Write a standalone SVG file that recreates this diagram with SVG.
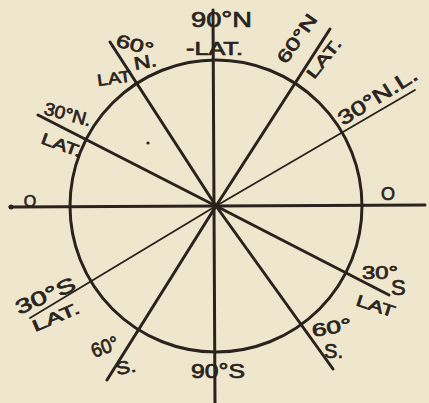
<svg xmlns="http://www.w3.org/2000/svg" width="429" height="403" viewBox="0 0 429 403">
<style>
.bg{fill:#efe7cd}
.ln{stroke:#2a231d;stroke-width:3;fill:none;stroke-linecap:round}
.thin{stroke:#2a231d;stroke-width:1.8;fill:none;stroke-linecap:round}
text{font-family:"Liberation Sans","DejaVu Sans",sans-serif;fill:#2a231d;stroke:#2a231d;stroke-width:0.7}
.s16{font-size:16px}
.s18{font-size:18px}
.s20{font-size:20px}
.s22{font-size:22px}
</style>
<rect class="bg" x="0" y="0" width="429" height="403"/>
<g id="connectors">
<circle id="globe" class="ln" cx="216" cy="206" r="146"/>
<line class="ln" x1="213" y1="10" x2="215" y2="403"/>
<line class="ln" x1="10" y1="207" x2="425" y2="205"/>
<line class="ln" x1="110" y1="42" x2="216" y2="206"/>
<line class="ln" x1="216" y1="206" x2="333" y2="369"/>
<line class="ln" x1="38" y1="115" x2="216" y2="206"/>
<line class="ln" x1="216" y1="206" x2="389" y2="295"/>
<line class="ln" x1="330" y1="29" x2="216" y2="206"/>
<line class="ln" x1="216" y1="206" x2="107" y2="380"/>
<line class="thin" x1="216" y1="206" x2="415" y2="90"/>
<line class="thin" x1="216" y1="206" x2="30" y2="318"/>
<circle cx="11" cy="207" r="2.5" fill="#2a231d"/>
<circle cx="148" cy="143" r="1.6" fill="#2a231d"/>
</g>
<g id="n90">
<text class="s22" x="191" y="27" textLength="61" lengthAdjust="spacingAndGlyphs">90°N</text>
<text class="s18" x="186" y="55" textLength="57" lengthAdjust="spacingAndGlyphs">-LAT.</text>
</g>
<g id="n60r">
<text class="s18" transform="translate(286,65) rotate(-55)" textLength="56" lengthAdjust="spacingAndGlyphs">60°N</text>
<text class="s16" transform="translate(314,80) rotate(-52)" textLength="46" lengthAdjust="spacingAndGlyphs">LAT.</text>
</g>
<g id="n30r">
<text class="s20" transform="translate(343,126) rotate(-32)" textLength="90" lengthAdjust="spacingAndGlyphs">30°N.L.</text>
</g>
<g id="eqr">
<text class="s18" x="388" y="200" text-anchor="middle">O</text>
</g>
<g id="eql">
<text class="s16" x="30" y="207" text-anchor="middle">O</text>
</g>
<g id="s30r">
<text class="s18" x="362" y="279" textLength="36" lengthAdjust="spacingAndGlyphs">30°</text>
<text class="s22" x="391" y="295">S</text>
<text class="s16" transform="translate(355,305) rotate(18)" textLength="40" lengthAdjust="spacingAndGlyphs">LAT</text>
</g>
<g id="s60r">
<text class="s18" transform="translate(313,337) rotate(-10)" textLength="40" lengthAdjust="spacingAndGlyphs">60°</text>
<text class="s20" x="324" y="358" textLength="19" lengthAdjust="spacingAndGlyphs">S.</text>
</g>
<g id="s90">
<text class="s20" x="191" y="378" textLength="54" lengthAdjust="spacingAndGlyphs">90°S</text>
</g>
<g id="s30l">
<text class="s20" transform="translate(19,315) rotate(-24)" textLength="64" lengthAdjust="spacingAndGlyphs">30°S</text>
<text class="s16" transform="translate(35,332) rotate(-23)" textLength="50" lengthAdjust="spacingAndGlyphs">LAT.</text>
</g>
<g id="s60l">
<text class="s20" transform="translate(94,358) rotate(-20)" textLength="28" lengthAdjust="spacingAndGlyphs">60°</text>
<text class="s18" transform="translate(117,375) rotate(-10)" textLength="20" lengthAdjust="spacingAndGlyphs">S.</text>
</g>
<g id="n60l">
<text class="s18" transform="translate(115,46) rotate(15)" textLength="38" lengthAdjust="spacingAndGlyphs">60°</text>
<text class="s18" transform="translate(135,70) rotate(-10)" textLength="23" lengthAdjust="spacingAndGlyphs">N.</text>
<text class="s16" transform="translate(98,86) rotate(-8)" textLength="34" lengthAdjust="spacingAndGlyphs">LAT</text>
</g>
<g id="n30l">
<text class="s18" transform="translate(43,114) rotate(15)" textLength="48" lengthAdjust="spacingAndGlyphs">30°N.</text>
<text class="s16" transform="translate(40,143) rotate(20)" textLength="42" lengthAdjust="spacingAndGlyphs">LAT.</text>
</g>
</svg>
